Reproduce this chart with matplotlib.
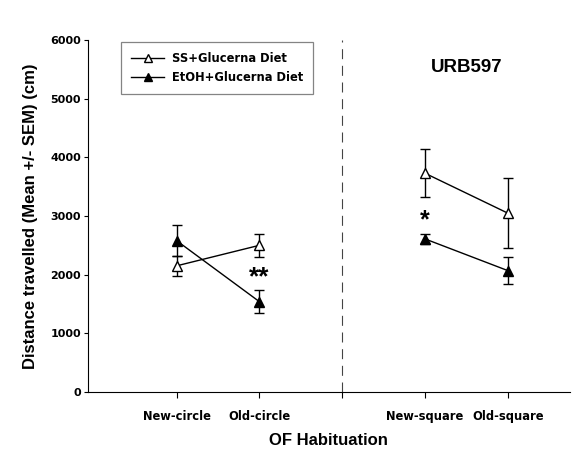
import matplotlib.pyplot as plt
from matplotlib.lines import Line2D

plt.rcParams['font.family'] = ['Liberation Sans', 'DejaVu Sans']
plt.rcParams['font.weight'] = 'bold'

# x positions: 1,2 = circle, 4,5 = square (3 is the divider)
x_circle = [1, 2]
x_square = [4, 5]
tick_pos = [1, 2, 3, 4, 5]
tick_labels = ['New-circle', 'Old-circle', '', 'New-square', 'Old-square']

ss_circle = [2150, 2500]
ss_circle_err = [170, 200]
etoh_circle = [2580, 1540]
etoh_circle_err = [270, 200]

ss_square = [3730, 3050]
ss_square_err = [410, 600]
etoh_square = [2610, 2070]
etoh_square_err = [80, 230]

fig = plt.figure(figsize=(5.79, 4.5), dpi=100)
ax = fig.add_axes([0.152, 0.129, 0.832, 0.782])

kw = dict(color='black', lw=1, capsize=3.5, elinewidth=1, capthick=1, markersize=7.5)
ax.errorbar(x_circle, ss_circle, yerr=ss_circle_err, marker='^', mfc='white', mec='black', **kw)
ax.errorbar(x_circle, etoh_circle, yerr=etoh_circle_err, marker='^', mfc='black', mec='black', **kw)
ax.errorbar(x_square, ss_square, yerr=ss_square_err, marker='^', mfc='white', mec='black', **kw)
ax.errorbar(x_square, etoh_square, yerr=etoh_square_err, marker='^', mfc='black', mec='black', **kw)

ax.axvline(3, color='#444444', lw=0.8, ls=(0, (9, 6)))

ax.text(2, 1950, '**', ha='center', va='center', fontsize=19, fontweight='bold')
ax.text(4, 2930, '*', ha='center', va='center', fontsize=18, fontweight='bold')
ax.text(4.5, 5540, 'URB597', ha='center', va='center', fontsize=13.5, fontweight='bold')

ax.set_xlim(-0.07, 5.75)
ax.set_ylim(0, 6000)
ax.set_yticks(range(0, 6001, 1000))
ax.set_xticks(tick_pos)
ax.set_xticklabels(tick_labels)
ax.tick_params(axis='x', direction='out', length=4, pad=9)
ax.tick_params(axis='y', direction='out', length=3, pad=2)
for lab in ax.get_xticklabels():
    lab.set_fontfamily('DejaVu Sans')
    lab.set_fontsize(8.3)
for lab in ax.get_yticklabels():
    lab.set_fontfamily('DejaVu Sans')
    lab.set_fontsize(8)
for s in ['top', 'right']:
    ax.spines[s].set_visible(False)

ax.set_ylabel('Distance travelled (Mean +/- SEM) (cm)', fontsize=12, fontweight='bold', labelpad=9)
ax.set_xlabel('OF Habituation', fontsize=12, fontweight='bold', labelpad=7)

handles = [
    Line2D([], [], color='black', lw=1, marker='^', mfc='white', mec='black', markersize=6),
    Line2D([], [], color='black', lw=1, marker='^', mfc='black', mec='black', markersize=6),
]
leg = ax.legend(handles, ['SS+Glucerna Diet', 'EtOH+Glucerna Diet'],
                loc='upper left', bbox_to_anchor=(121 / 579, 1 - 42 / 450),
                bbox_transform=fig.transFigure, borderaxespad=0,
                prop={'family': 'DejaVu Sans', 'weight': 'bold', 'size': 8.3},
                frameon=True, fancybox=False, edgecolor='#666666',
                borderpad=0.9, handlelength=2.8, handletextpad=0.7, labelspacing=0.45)
leg.get_frame().set_linewidth(0.9)

fig.savefig('out.png', dpi=100)
